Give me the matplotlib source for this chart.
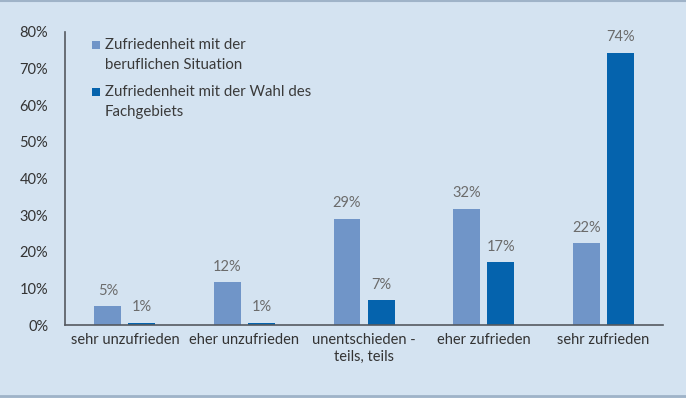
import matplotlib
matplotlib.use("Agg")
import matplotlib.pyplot as plt
from matplotlib.patches import Rectangle
import numpy as np

categories = ["sehr unzufrieden", "eher unzufrieden", "unentschieden -\nteils, teils",
              "eher zufrieden", "sehr zufrieden"]
series_names = ["Zufriedenheit mit der\nberuflichen Situation",
                "Zufriedenheit mit der Wahl des\nFachgebiets"]
beruf = [5.2, 11.7, 29.0, 31.7, 22.3]
fach = [0.6, 0.6, 6.8, 17.2, 74.3]
beruf_labels = ["5%", "12%", "29%", "32%", "22%"]
fach_labels = ["1%", "1%", "7%", "17%", "74%"]
yticks = [0, 10, 20, 30, 40, 50, 60, 70, 80]

plt.rcParams['font.family'] = ['Lato', 'DejaVu Sans']

bg = "#d4e3f1"
c_light = "#7095c8"
c_dark = "#0563ad"
colors = [c_light, c_dark]

W, H = 686, 398
fig = plt.figure(figsize=(6.86, 3.98), dpi=100, facecolor=bg)
ax = fig.add_axes([0.0948, 0.1834, 0.8717, 0.7362])
ax.set_facecolor(bg)

x = np.arange(len(categories))
w = 0.225
gap = 0.06
b1 = ax.bar(x - (w + gap) / 2, beruf, w, color=c_light, label=series_names[0], zorder=2)
b2 = ax.bar(x + (w + gap) / 2, fach, w, color=c_dark, label=series_names[1], zorder=2)

for bars, labs in ((b1, beruf_labels), (b2, fach_labels)):
    for rect, lab in zip(bars, labs):
        ax.text(rect.get_x() + rect.get_width() / 2, rect.get_height() + 2.3, lab,
                ha="center", va="bottom", fontsize=10.5, color="#6b6b6b")

ax.set_xlim(-0.5, len(categories) - 0.5)
ax.set_ylim(0, 80)
ax.set_yticks(yticks)
ax.set_yticklabels([f"{t}%" for t in yticks], fontsize=10.5, color="#333333")
ax.set_xticks(x)
ax.set_xticklabels(categories, fontsize=10.5, color="#333333")
ax.tick_params(axis="both", length=0)
ax.tick_params(axis="y", pad=12)
ax.tick_params(axis="x", pad=6)
for s in ["top", "right"]:
    ax.spines[s].set_visible(False)
for s in ["left", "bottom"]:
    ax.spines[s].set_color("#555a60")
    ax.spines[s].set_linewidth(1.2)

# manual legend: square aligned with first line of each entry
entry_tops = [45, 92]
line_gap = 20
for name, col, ytop in zip(series_names, colors, entry_tops):
    sq = 8
    fig.add_artist(Rectangle(((92) / W, 1 - (ytop + sq / 2) / H), sq / W, sq / H,
                             transform=fig.transFigure, facecolor=col, edgecolor="none"))
    for i, line in enumerate(name.split("\n")):
        fig.text(105 / W, 1 - (ytop + i * line_gap) / H, line, ha="left", va="center",
                 fontsize=10.8, color="#3a3a3a")

# figure border lines top and bottom
fig.add_artist(plt.Line2D([0, 1], [0.997, 0.997], transform=fig.transFigure, color="#9fb3c8", lw=1.5))
fig.add_artist(plt.Line2D([0, 1], [0.004, 0.004], transform=fig.transFigure, color="#9fb3c8", lw=2))

fig.savefig("out.png", dpi=100, facecolor=bg)
